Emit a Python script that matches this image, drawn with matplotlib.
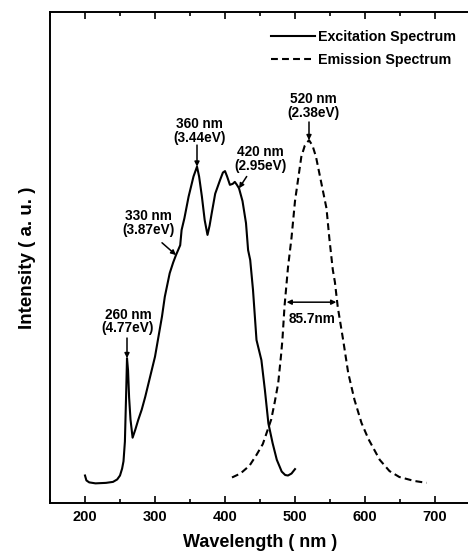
import matplotlib.pyplot as plt
from matplotlib.ticker import MultipleLocator

plt.rcParams.update(
    {
        "font.family": ["Liberation Sans", "DejaVu Sans"],
        "font.weight": "bold",
        "axes.labelweight": "bold",
    }
)

# excitation spectrum, intensity in arbitrary units
exc_nm = [200, 202, 206, 215, 230, 240, 246, 250, 253, 255, 257, 259, 260, 261.5, 263, 265, 268,
          272, 276, 281, 286, 293, 300, 305, 310, 314, 321, 326, 330, 336, 338, 342, 348, 355,
          360, 363, 367, 371, 375, 378, 381, 386, 393, 397, 400, 403, 407, 411, 414, 417, 420,
          425, 430, 433, 436, 440, 445, 452, 457, 462, 468, 474, 481, 486, 490, 495, 500]
exc_int = [5.6, 4.6, 4.2, 4.0, 4.1, 4.3, 4.8, 5.6, 7.0, 8.5, 12.5, 23.5, 29.5, 27.0, 21.5, 17.0, 13.3,
           15.0, 16.9, 19.0, 21.6, 25.7, 29.8, 33.9, 38.0, 42.0, 46.8, 49.0, 50.5, 52.5, 55.6, 58.0, 62.4, 66.5,
           68.5, 66.5, 62.4, 57.6, 54.6, 56.5, 59.0, 63.0, 65.8, 67.3, 67.6, 66.5, 64.8, 65.0, 65.4, 64.8, 64.1,
           61.5, 57.0, 51.5, 49.5, 43.4, 33.2, 29.1, 23.0, 16.2, 12.2, 8.8, 6.4, 5.7, 5.6, 6.0, 6.9]

# emission spectrum
em_nm = [410, 422, 435, 445, 454, 460, 466, 471, 476, 480, 482, 485, 490, 495, 500, 505, 509, 514,
         520, 525, 530, 535, 540, 545, 549, 554, 557, 561, 565, 569, 576, 585, 595, 605, 621, 635,
         649, 670, 688]
em_int = [5.2, 6.0, 7.6, 9.8, 12.0, 14.5, 17.0, 20.5, 24.4, 30.0, 33.2, 40.0, 48.0, 54.0, 61.5, 66.5, 70.5, 72.8,
          73.9, 72.8, 70.5, 67.0, 63.5, 60.0, 54.0, 47.5, 45.0, 40.0, 36.5, 33.0, 26.5, 21.0, 16.3, 13.0, 8.8, 6.5,
          5.3, 4.5, 4.1]

# labelled excitation peaks and their photon energies
peak_nm = [260, 330, 360, 420]
peak_ev = [4.77, 3.87, 3.44, 2.95]
em_peak_nm = 520
em_peak_ev = 2.38
fwhm_nm = 85.7

fig = plt.figure(figsize=(4.68, 5.52), dpi=100)
ax = fig.add_axes([50 / 468, 49 / 552, 420 / 468, 491 / 552])

ax.plot(exc_nm, exc_int, color="black", lw=1.5, label="Excitation Spectrum")
ax.plot(em_nm, em_int, color="black", lw=1.5, linestyle=(0, (3.3, 2.0)), label="Emission Spectrum")

ax.set_xlim(150, 750)
ax.set_ylim(0, 100)
ax.set_yticks([])
ax.xaxis.set_major_locator(MultipleLocator(100))
ax.xaxis.set_minor_locator(MultipleLocator(50))
ax.tick_params(axis="x", which="both", direction="in", top=True, labelsize=10.5, pad=5, width=1.2)
ax.tick_params(axis="x", which="major", length=5)
ax.tick_params(axis="x", which="minor", length=3)
for side in ["left", "bottom", "top"]:
    ax.spines[side].set_linewidth(1.4)
ax.spines["right"].set_visible(False)

ax.set_xlabel("Wavelength ( nm )", fontsize=13, labelpad=7)
ax.set_ylabel("Intensity ( a. u. )", fontsize=13.5, labelpad=10)

leg = ax.legend(
    loc="upper right",
    bbox_to_anchor=(456 / 468, 1 - 30 / 552),
    bbox_transform=fig.transFigure,
    frameon=False,
    fontsize=10.3,
    handlelength=3.1,
    handletextpad=0.2,
    labelspacing=0.65,
    borderpad=0,
    borderaxespad=0,
)

arrow_kw = dict(arrowstyle="-|>", lw=1.1, color="black", mutation_scale=7, shrinkA=0, shrinkB=0)
txt_kw = dict(ha="center", va="center", fontsize=9.8, linespacing=0.95)


def peak_value(nm):
    return exc_int[exc_nm.index(nm)]


# label offsets: (text x, text y, arrow start x, arrow start y)
label_pos = {
    260: (261.5, 37.0, 260, 33.6),
    330: (290, 57.0, 310, 53.0),
    360: (363, 75.8, 360, 72.9),
    420: (450, 70.1, 431, 66.5),
}
for nm, ev in zip(peak_nm, peak_ev):
    tx, ty, ax0, ay0 = label_pos[nm]
    ax.text(tx, ty, f"{nm} nm\n({ev:.2f}eV)", **txt_kw)
    ax.annotate("", xy=(nm, peak_value(nm)), xytext=(ax0, ay0), arrowprops=arrow_kw)

em_top = em_int[em_nm.index(em_peak_nm)]
ax.text(em_peak_nm + 6, 80.9, f"{em_peak_nm} nm\n({em_peak_ev:.2f}eV)", **txt_kw)
ax.annotate("", xy=(em_peak_nm, em_top), xytext=(em_peak_nm, 77.6), arrowprops=arrow_kw)

# width marker across the emission band
ax.annotate("", xy=(488, 40.9), xytext=(559, 40.9),
            arrowprops=dict(arrowstyle="<|-|>", lw=1.1, color="black", mutation_scale=7, shrinkA=0, shrinkB=0))
ax.text(525, 37.4, f"{fwhm_nm}nm", **txt_kw)

fig.savefig("out.png", dpi=100)
